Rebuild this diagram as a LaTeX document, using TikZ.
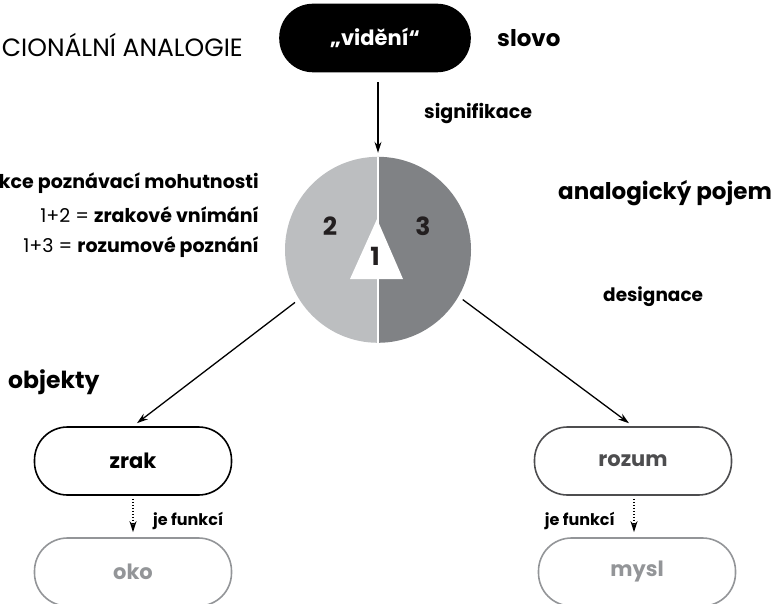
\documentclass[tikz,border=0pt]{standalone}
\usepackage{fontspec}
\setmainfont{Poppins}
\usetikzlibrary{arrows.meta}
\definecolor{halfL}{HTML}{BCBEC0}
\definecolor{halfR}{HTML}{808285}
\definecolor{ink}{HTML}{231F20}
\definecolor{faded}{HTML}{939598}
\definecolor{midgray}{HTML}{4D4D4F}
\newcommand*{\WheelR}{93}
\newcommand*{\Fs}[1]{\fontsize{#1}{#1}\selectfont}
\tikzset{
  pill/.style={draw, rounded corners=33pt, minimum width=197pt, minimum height=68pt,
    line width=1.6pt, font=\bfseries\Fs{21}},
  lbl/.style={font=\bfseries\Fs{19}, inner sep=0pt},
  link/.style={-{Stealth[length=11pt,width=7pt]}, line width=1.3pt},
}

\begin{document}
\begin{tikzpicture}[x=1pt,y=-1pt]
  \useasboundingbox (0,0) rectangle (778,604);

  % title and word
  \node[anchor=east, inner sep=0pt, font=\Fs{25}] (title) at (243,45) {CIONÁLNÍ ANALOGIE};
  \node[pill, fill=black, text=white, minimum width=190pt, minimum height=67pt] (vid) at (375,38) {„vidění“};
  \node[lbl, anchor=west, font=\bfseries\Fs{23}] (slovo) at (497,38) {slovo};
  \node[lbl, anchor=west] (sig) at (424,114) {signifikace};

  % the wheel of concepts
  \node[circle, minimum size=186pt, inner sep=0pt] (wheel) at (378,250) {};
  \fill[halfL] (wheel.north) arc[start angle=270, end angle=90, radius=\WheelR] -- cycle;
  \fill[halfR] (wheel.north) arc[start angle=270, end angle=450, radius=\WheelR] -- cycle;
  \draw[white, line width=2pt] (wheel.north) -- (wheel.south);
  \fill[white] (377,219) -- (403,279) -- (350,279) -- cycle;
  \foreach \x/\y/\n in {330/226/2, 423/226/3, 375/256/1}
    \node[font=\bfseries\Fs{25}, text=ink] (num\n) at (\x,\y) {\n};

  \foreach \y/\txt [count=\i] in {183/{\bfseries kce poznávací mohutnosti},
      215/{1+2 = \textbf{zrakové vnímání}}, 247/{1+3 = \textbf{rozumové poznání}}}
    \node[anchor=east, inner sep=0pt, font=\Fs{19}] (fn\i) at (259,\y) {\txt};

  \node[lbl, anchor=west, font=\bfseries\Fs{23}] (pojem) at (558,193) {analogický pojem};
  \node[lbl, anchor=west, font=\bfseries\Fs{18.5}] (des) at (603,297) {designace};
  \node[lbl, anchor=west, font=\bfseries\Fs{23.5}] (obj) at (8,382) {objekty};

  % objects
  \node[pill] (zrak) at (133,461) {zrak};
  \node[pill, draw=midgray, text=midgray] (rozum) at (633,461) {rozum};
  \node[pill, draw=faded, text=faded] (oko) at (133,572) {oko};
  \node[pill, draw=faded, text=faded] (mysl) at (637,572) {mysl};

  \node[lbl, anchor=west, font=\bfseries\Fs{16}] (fz) at (153,521) {je funkcí};
  \node[lbl, anchor=east, font=\bfseries\Fs{16}] (fr) at (615,521) {je funkcí};

  % links
  \draw[link, shorten <=10pt, shorten >=4pt] (wheel.north |- vid.south) -- (wheel.north);
  \draw[link, shorten <=5pt, shorten >=5pt] (wheel.212) -- (zrak.north);
  \draw[link, shorten <=5pt, shorten >=5pt] (wheel.330) -- (rozum.north);
  \draw[link, dash pattern=on 1.5pt off 1.5pt, shorten <=3pt, shorten >=5pt] (zrak) -- (oko);
  \draw[link, dash pattern=on 1.5pt off 1.5pt, shorten <=3pt, shorten >=5pt] (rozum.south -| 634,0) -- (mysl.north -| 634,0);
\end{tikzpicture}
\end{document}
